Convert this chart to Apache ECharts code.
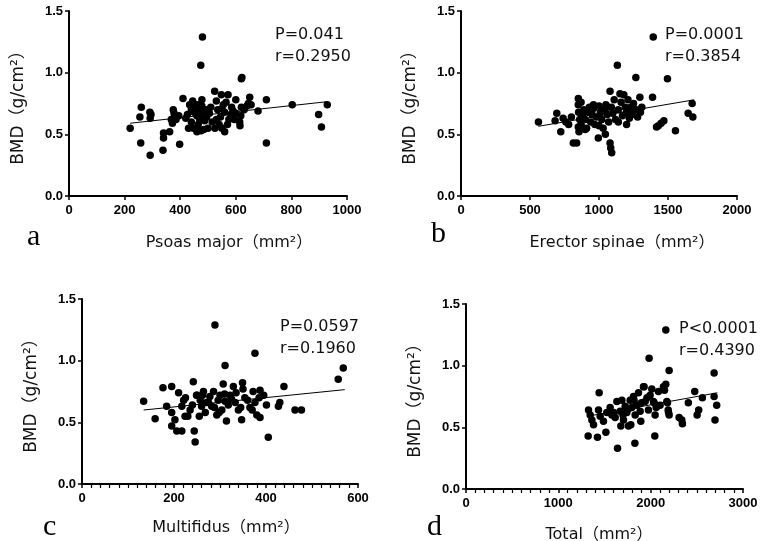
<!DOCTYPE html>
<html><head><meta charset="utf-8">
<script src="https://cdn.jsdelivr.net/npm/echarts@6/dist/echarts.min.js"></script>
<style>html,body{margin:0;padding:0;background:#fff}#c{width:768px;height:541px}</style>
</head><body><div id="c"></div>
<script>
// ---- data (x = area mm², y = BMD g/cm²) ----
const psoasData = [[220,0.55],[258,0.43],[255,0.64],[260,0.72],[292,0.33],[291,0.68],[292,0.63],[295,0.66],[338,0.37],[340,0.47],[340,0.51],[362,0.52],[375,0.70],[378,0.67],[372,0.59],[368,0.62],[398,0.42],[410,0.79],[426,0.66],[434,0.74],[440,0.70],[440,0.60],[448,0.55],[455,0.72],[460,0.65],[465,0.58],[470,0.68],[478,0.78],[478,0.73],[480,0.65],[485,0.54],[488,0.61],[492,0.70],[500,0.55],[505,0.67],[480,1.29],[474,1.06],[524,0.85],[530,0.77],[535,0.70],[530,0.62],[525,0.55],[548,0.82],[555,0.74],[560,0.68],[572,0.82],[560,0.52],[575,0.62],[582,0.66],[590,0.69],[614,0.60],[615,0.57],[620,0.72],[618,0.65],[620,0.95],[622,0.96],[650,0.80],[645,0.75],[655,0.74],[680,0.69],[710,0.78],[710,0.43],[803,0.74],[898,0.66],[908,0.56],[929,0.74],[420,0.63],[430,0.55],[445,0.77],[450,0.68],[462,0.74],[470,0.62],[475,0.53],[495,0.64],[510,0.72],[515,0.60],[540,0.58],[545,0.64],[550,0.71],[565,0.76],[570,0.58],[585,0.72],[595,0.62],[600,0.67],[630,0.70],[640,0.73],[600,0.78],[550,0.55],[460,0.52],[385,0.62],[395,0.65]];
const psoasFit = [[220,0.59],[930,0.765]];

const erectorData = [[561,0.60],[682,0.61],[694,0.67],[723,0.52],[740,0.63],[760,0.60],[780,0.58],[800,0.64],[814,0.43],[838,0.43],[850,0.79],[850,0.74],[852,0.68],[850,0.56],[855,0.52],[860,0.62],[870,0.58],[880,0.65],[890,0.70],[900,0.62],[910,0.55],[920,0.68],[930,0.72],[940,0.60],[950,0.66],[960,0.71],[970,0.58],[980,0.64],[995,0.47],[1000,0.73],[1010,0.68],[1020,0.62],[1030,0.55],[1040,0.70],[1046,0.50],[1050,0.74],[1060,0.66],[1070,0.60],[1080,0.43],[1085,0.39],[1092,0.35],[1080,0.85],[1090,0.72],[1100,0.67],[1110,0.78],[1120,0.62],[1133,1.06],[1140,0.70],[1152,0.83],[1160,0.76],[1170,0.65],[1180,0.82],[1190,0.72],[1200,0.68],[1210,0.78],[1220,0.63],[1230,0.72],[1240,0.66],[1250,0.75],[1267,0.96],[1270,0.70],[1280,0.64],[1296,0.80],[1300,0.68],[1310,0.72],[1393,1.29],[1388,0.80],[1417,0.56],[1430,0.57],[1450,0.59],[1470,0.61],[1496,0.95],[1554,0.53],[1646,0.67],[1675,0.75],[1680,0.64],[870,0.76],[900,0.54],[960,0.74],[1000,0.57],[1060,0.72],[1140,0.60],[1200,0.58]];
const erectorFit = [[560,0.565],[1690,0.78]];

const multifidusData = [[289,1.29],[376,1.06],[311,0.96],[568,0.94],[557,0.85],[134,0.67],[159,0.53],[176,0.78],[195,0.79],[184,0.63],[195,0.58],[195,0.47],[202,0.52],[206,0.43],[217,0.43],[217,0.63],[221,0.68],[224,0.55],[235,0.60],[242,0.83],[244,0.43],[246,0.34],[249,0.72],[257,0.68],[260,0.63],[264,0.75],[268,0.58],[271,0.66],[278,0.71],[282,0.63],[286,0.75],[293,0.56],[296,0.68],[300,0.72],[304,0.60],[307,0.81],[311,0.67],[314,0.51],[322,0.72],[329,0.79],[333,0.66],[340,0.60],[347,0.52],[349,0.82],[354,0.70],[365,0.62],[372,0.75],[376,0.66],[380,0.56],[387,0.54],[387,0.76],[401,0.64],[405,0.38],[427,0.63],[439,0.79],[463,0.60],[477,0.60],[225,0.70],[240,0.64],[255,0.55],[262,0.72],[275,0.66],[288,0.62],[298,0.58],[310,0.73],[318,0.64],[325,0.69],[335,0.74],[345,0.62],[350,0.77],[360,0.68],[370,0.60],[385,0.70],[395,0.72],[430,0.66],[210,0.74],[230,0.55],[250,0.72]];
const multifidusFit = [[134,0.60],[571,0.765]];

const totalData = [[2164,1.29],[1983,1.06],[2200,0.96],[2687,0.94],[1442,0.78],[1323,0.43],[1424,0.42],[1515,0.46],[1641,0.33],[1829,0.37],[2045,0.43],[2477,0.79],[2560,0.74],[2715,0.68],[2697,0.56],[2687,0.75],[2503,0.60],[2520,0.64],[2308,0.58],[2344,0.53],[2200,0.60],[2182,0.70],[2190,0.64],[2164,0.85],[2150,0.80],[2037,0.70],[1929,0.83],[1893,0.55],[1785,0.52],[1677,0.51],[1327,0.64],[1345,0.60],[1363,0.56],[1381,0.52],[1435,0.64],[1453,0.59],[1489,0.55],[1525,0.62],[1561,0.66],[1580,0.60],[1616,0.58],[1634,0.71],[1670,0.63],[1688,0.72],[1706,0.56],[1724,0.67],[1742,0.62],[1760,0.51],[1778,0.72],[1796,0.66],[1814,0.75],[1832,0.60],[1850,0.68],[1868,0.78],[1886,0.63],[1922,0.83],[1940,0.71],[1976,0.64],[1994,0.76],[2012,0.81],[2030,0.71],[2048,0.60],[2084,0.79],[2102,0.68],[2138,0.83],[2175,0.71],[2193,0.62],[2337,0.56],[2408,0.70],[1700,0.60],[1760,0.65],[1600,0.62],[1900,0.70],[1960,0.74],[2060,0.66],[1820,0.72]];
const totalFit = [[1316,0.59],[2723,0.78]];

const yTicks = [0, 0.5, 1.0, 1.5];
const xMax = [1000, 2000, 600, 3000];
const xStep = [200, 500, 200, 1000];
const xNames = ['Psoas major（mm²）', 'Erector spinae（mm²）', 'Multifidus（mm²）', 'Total（mm²）'];
const stats = [['P=0.041','r=0.2950'],['P=0.0001','r=0.3854'],['P=0.0597','r=0.1960'],['P<0.0001','r=0.4390']];
const panelLetters = ['a','b','c','d'];
const yName = 'BMD（g/cm²）';

const scatterSets = [psoasData, erectorData, multifidusData, totalData];
const fitSets = [psoasFit, erectorFit, multifidusFit, totalFit];

// ---- layout ----
const grids = [
  {left:69, top:11, width:278, height:185},
  {left:461, top:11, width:276, height:185},
  {left:82, top:299, width:276, height:185},
  {left:466, top:304, width:277, height:185}
];
const minorOn = [false, false, true, true];
const statPos = [[275,35],[665,35],[280,327],[679,329]];
const letterPos = [[27,237],[431,234],[43,527],[427,527]];
const xNamePos = [[229,243],[622,243],[226,528],[599,535]];

const font = 'Liberation Sans, Arial, sans-serif';
const textFont = 'DejaVu Sans, Noto Sans CJK SC, sans-serif';
const axisLine = {show:true, onZero:false, lineStyle:{color:'#000', width:2}};
const option = {
  animation:false,
  backgroundColor:'#fff',
  grid: grids.map(g => Object.assign({containLabel:false}, g)),
  xAxis: grids.map((g,i) => ({
    type:'value', gridIndex:i, min:0, max:xMax[i], interval:xStep[i],
    axisLine, splitLine:{show:false},
    axisTick:{show:true, length:4, lineStyle:{color:'#000', width:1.5}},
    minorTick:{show:minorOn[i], splitNumber:10, length:4, lineStyle:{color:'#000', width:1.2}},
    minorSplitLine:{show:false},
    axisLabel:{color:'#000', fontFamily:font, fontWeight:'bold', fontSize:13, margin:8,
      formatter: v => String(v)}
  })),
  yAxis: grids.map((g,i) => ({
    type:'value', gridIndex:i, min:yTicks[0], max:yTicks[yTicks.length-1], interval:0.5,
    axisLine, splitLine:{show:false},
    axisTick:{show:true, length:4, lineStyle:{color:'#000', width:1.5}},
    axisLabel:{color:'#000', fontFamily:font, fontWeight:'bold', fontSize:13, margin:6,
      formatter: v => v.toFixed(1)},
    name:yName, nameLocation:'middle', nameGap:42, nameRotate:90,
    nameTextStyle:{color:'#111', fontFamily:textFont, fontSize:17}
  })),
  series: [].concat(
    scatterSets.map((d,i) => ({
      type:'scatter', xAxisIndex:i, yAxisIndex:i, data:d, symbol:'circle', symbolSize:7.5,
      itemStyle:{color:'#000', opacity:1}, z:3
    })),
    fitSets.map((d,i) => ({
      type:'line', xAxisIndex:i, yAxisIndex:i, data:d, symbol:'none',
      lineStyle:{color:'#000', width:1}, z:2
    }))
  ),
  graphic: [].concat(
    stats.map((s,i) => ({type:'text', left:statPos[i][0], top:statPos[i][1]-11,
      style:{text:s[0]+'\n'+s[1], fill:'#111', font:'16px '+textFont, lineHeight:22}})),
    panelLetters.map((t,i) => ({type:'text', x:letterPos[i][0], y:letterPos[i][1],
      style:{text:t, fill:'#000', font:'30px Liberation Serif, Times New Roman, serif', textVerticalAlign:'middle'}})),
    xNames.map((t,i) => ({type:'text', x:xNamePos[i][0], y:xNamePos[i][1],
      style:{text:t, fill:'#111', font:'16px '+textFont, textAlign:'center', textVerticalAlign:'middle'}}))
  )
};
const chart = echarts.init(document.getElementById('c'), null, {renderer:'canvas'});
chart.setOption(option);
</script>
</body></html>
